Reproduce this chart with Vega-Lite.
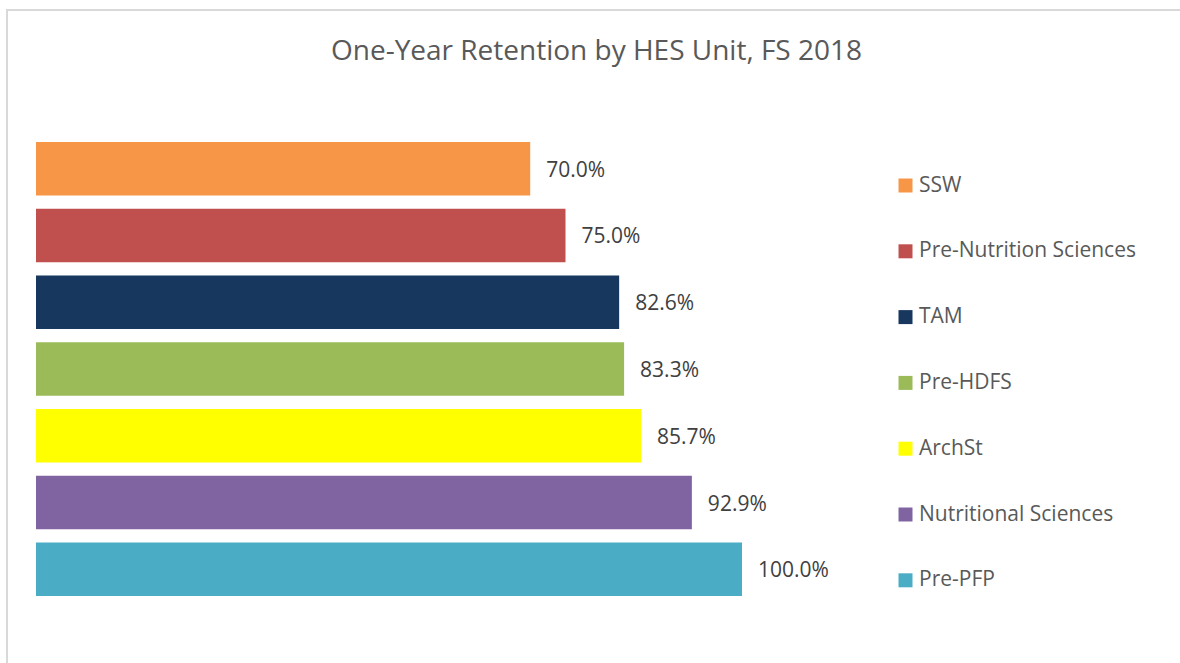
{
  "$schema": "https://vega.github.io/schema/vega-lite/v6.json",
  "autosize": "none",
  "padding": {"left": 7, "top": 10, "right": 0, "bottom": 0},
  "width": 1173,
  "height": 653,
  "background": "white",
  "config": {
    "view": {"stroke": "#d9d9d9", "strokeWidth": 2, "strokeDash": [1173, 1826, 653, 1826]},
    "font": "Open Sans"
  },
  "title": {
    "text": "One-Year Retention by HES Unit, FS 2018",
    "font": "Open Sans",
    "fontSize": 28,
    "fontWeight": "normal",
    "color": "#595959",
    "anchor": "middle",
    "frame": "group",
    "orient": "top",
    "baseline": "alphabetic",
    "offset": -78,
    "dx": 3
  },
  "data": {
    "values": [
      {"unit": "SSW", "retention": 0.70},
      {"unit": "Pre-Nutrition Sciences", "retention": 0.75},
      {"unit": "TAM", "retention": 0.826},
      {"unit": "Pre-HDFS", "retention": 0.833},
      {"unit": "ArchSt", "retention": 0.857},
      {"unit": "Nutritional Sciences", "retention": 0.929},
      {"unit": "Pre-PFP", "retention": 1.0}
    ]
  },
  "encoding": {
    "y": {
      "field": "unit",
      "type": "nominal",
      "sort": ["SSW", "Pre-Nutrition Sciences", "TAM", "Pre-HDFS", "ArchSt", "Nutritional Sciences", "Pre-PFP"],
      "scale": {"paddingInner": 0.2, "paddingOuter": 0, "range": [132, 586]},
      "axis": null
    },
    "x": {
      "field": "retention",
      "type": "quantitative",
      "scale": {"domain": [-0.04108, 1.6204], "zero": false, "nice": false},
      "axis": null
    }
  },
  "layer": [
    {
      "mark": {"type": "bar"},
      "encoding": {
        "x2": {"datum": 0},
        "color": {
          "field": "unit",
          "type": "nominal",
          "scale": {
            "domain": ["SSW", "Pre-Nutrition Sciences", "TAM", "Pre-HDFS", "ArchSt", "Nutritional Sciences", "Pre-PFP"],
            "range": ["#F79646", "#C0504D", "#17375E", "#9BBB59", "#FFFF00", "#8064A2", "#4BACC6"]
          },
          "legend": {
            "title": null,
            "orient": "none",
            "legendX": 888,
            "legendY": 165,
            "symbolType": "square",
            "symbolSize": 196,
            "symbolStrokeWidth": 0,
            "labelFont": "Open Sans",
            "labelFontSize": 21,
            "labelColor": "#595959",
            "labelOffset": 3,
            "rowPadding": 43.8,
            "labelLimit": 400
          }
        }
      }
    },
    {
      "mark": {"type": "text", "align": "left", "baseline": "middle", "dx": 16, "dy": 2, "fontSize": 21, "font": "Open Sans", "color": "#404040"},
      "encoding": {
        "text": {"field": "retention", "type": "quantitative", "format": ".1%"}
      }
    }
  ]
}
